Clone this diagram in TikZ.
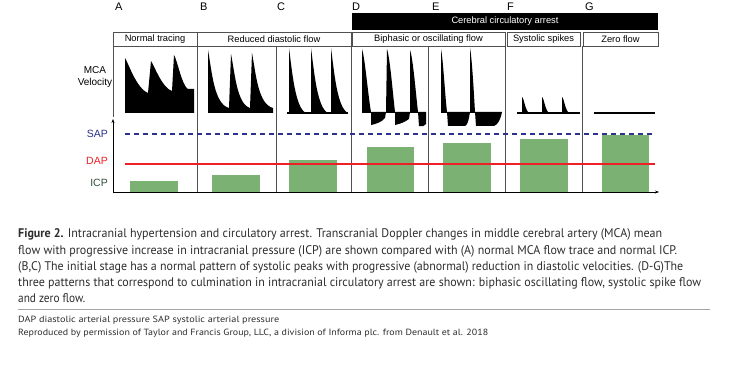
\documentclass[tikz,border=0pt]{standalone}
\usepackage{fontspec}
\setmainfont{Liberation Sans}
\newfontfamily\capfont{PT Sans}
\usepackage{graphicx}
\usetikzlibrary{arrows.meta}
\definecolor{barg}{RGB}{123,177,115}
\definecolor{sapc}{RGB}{43,49,140}
\definecolor{dapc}{RGB}{236,32,38}
\definecolor{icpc}{RGB}{50,80,60}
\definecolor{divc}{RGB}{80,80,80}
\definecolor{capc}{RGB}{45,45,45}
\tikzset{
  letter/.style={anchor=west,inner sep=0pt,font=\fontsize{11}{12}\selectfont},
  hdr/.style={draw=divc,line width=0.9pt,fill=white,inner sep=0pt,minimum height=14pt,font=\fontsize{9.3}{10}\selectfont},
  blackbar/.style={fill=black,text=white,inner sep=0pt,minimum height=17pt,font=\fontsize{9.3}{10}\selectfont},
  divider/.style={draw=divc,line width=0.8pt},
  wave/.style={fill=black},
  baseln/.style={draw=black,line width=1.2pt},
  bar/.style={fill=barg},
  axisline/.style={draw=black,line width=0.9pt,-{Stealth[length=4pt,width=3pt]}},
  plab/.style={anchor=east,inner sep=0pt,font=\fontsize{10.5}{12}\selectfont},
  captxt/.style={anchor=west,inner sep=0pt,text=capc,font=\capfont\fontsize{12.5}{14}\selectfont},
  smalltxt/.style={anchor=west,inner sep=0pt,text=capc,font=\capfont\fontsize{9}{10}\selectfont},
}
\begin{document}
\begin{tikzpicture}[x=1pt,y=-1pt]
\useasboundingbox (0,0) rectangle (730,366);
\fill[white] (0,0) rectangle (730,366);

% letters
\node[letter] (lA) at (115,7) {A};
\node[letter] (lB) at (200,7) {B};
\node[letter] (lC) at (277,7) {C};
\node[letter] (lD) at (352,7) {D};
\node[letter] (lE) at (432,7) {E};
\node[letter] (lF) at (507,7) {F};
\node[letter] (lG) at (585,7) {G};

% black bar
\node[blackbar,minimum width=306pt] (arrest) at (505,21.5) {Cerebral circulatory arrest};

% header boxes
\node[hdr,minimum width=84pt] (hA) at (155,39) {Normal tracing};
\node[hdr,minimum width=154pt] (hBC) at (274,39) {Reduced diastolic flow};
\node[hdr,minimum width=153pt] (hDE) at (428.5,39) {Biphasic or oscillating flow};
\node[hdr,minimum width=73pt] (hF) at (543.5,39) {Systolic spikes};
\node[hdr,minimum width=75pt] (hG) at (620.5,39) {Zero flow};

% dividers
\draw[divider] (113,46) -- (113,117);
\foreach \xx in {197,276,351,428,505,582} \draw[divider] (\xx,46) -- (\xx,192);

% MCA label
\node[align=center,inner sep=0pt,font=\fontsize{10}{11.5}\selectfont] (mca) at (95,77) {MCA\\Velocity};

% waveform A
\fill[wave] (125,113) -- (125,58) .. controls (128,62) and (136,88) .. (148,93) -- (151,61)
  .. controls (154,65) and (162,88) .. (172,91) -- (174,55)
  .. controls (177,59) and (182,86) .. (188,89) -- (194,89) -- (194,113) -- cycle;
% waveform B
\fill[wave] (208,113) -- (208,50) .. controls (212,72) and (214,104) .. (229,108) -- (231,54)
  .. controls (235,74) and (237,104) .. (250,108) -- (252,53)
  .. controls (256,74) and (258,104) .. (273,108) -- (273,113) -- cycle;
% waveform C
\draw[baseln] (287,113) -- (348,113);
\foreach \xx in {289,311,331}
  \fill[wave] (\xx,113) -- (\xx,48) .. controls (\xx+3,70) and (\xx+6,108) .. (\xx+17,113) -- cycle;
% waveform D
\fill[wave] (362,112) -- (362,49) .. controls (365,58) and (368,95) .. (371,112) -- (371,125)
  .. controls (376,124) and (382,122) .. (385,118) -- (386,112)
  -- (387,49) .. controls (390,58) and (393,95) .. (395,112) -- (395,125)
  .. controls (400,124) and (405,122) .. (409,119) -- (410,112)
  -- (410,50) .. controls (413,58) and (416,95) .. (418,112) -- (419,126)
  .. controls (422,127) and (425,126) .. (426,124) -- (426,112) -- cycle;
\draw[baseln] (362,112.5) -- (426,112.5);
% waveform E
\fill[wave] (441,112) -- (441,49) .. controls (443,58) and (445,95) .. (447,112) -- (448,126)
  -- (465,126) .. controls (468,125) and (469,118) .. (470,112)
  -- (470,48) .. controls (472,58) and (474,95) .. (475,112) -- (476,126)
  -- (494,126) .. controls (498,125) and (501,118) .. (502,112) -- cycle;
\draw[baseln] (441,112.5) -- (502,112.5);
% waveform F
\draw[baseln] (517,113) -- (580,113);
\foreach \xx in {522,542,562}
  \fill[wave] (\xx,113) -- (\xx,97) .. controls (\xx+2,98) and (\xx+3,110) .. (\xx+7,113) -- cycle;
% waveform G
\draw[baseln] (594,113) -- (655,113);

% bars
\fill[bar] (130,181) rectangle (178,192);
\fill[bar] (212,175) rectangle (260,192);
\fill[bar] (289,160) rectangle (337,192);
\fill[bar] (367,147) rectangle (414,192);
\fill[bar] (443,143) rectangle (491,192);
\fill[bar] (520,139) rectangle (568,192);
\fill[bar] (602,135) rectangle (649,192);

% SAP / DAP lines
\draw[sapc,line width=1.6pt,dash pattern=on 5pt off 4pt] (125,134) -- (655,134);
\draw[dapc,line width=1.8pt] (125,164) -- (655,164);

% axes
\coordinate (origin) at (113,192);
\coordinate (yend) at (113,119);
\coordinate (xend) at (659,192);
\draw[axisline] (origin) -- (yend);
\draw[axisline] (origin) -- (xend);

% pressure labels
\node[plab,text=sapc] (sap) at (108,134) {SAP};
\node[plab,text=dapc] (dap) at (108,161) {DAP};
\node[plab,text=icpc] (icp) at (108,183) {ICP};

% caption
\node[captxt] (c1) at (18,234) {\resizebox{644pt}{\height}{\textbf{Figure 2.} Intracranial hypertension and circulatory arrest. Transcranial Doppler changes in middle cerebral artery (MCA) mean}};
\node[captxt] (c2) at (18,251) {\resizebox{659pt}{\height}{flow with progressive increase in intracranial pressure (ICP) are shown compared with (A) normal MCA flow trace and normal ICP.}};
\node[captxt] (c3) at (18,267) {\resizebox{665pt}{\height}{(B,C) The initial stage has a normal pattern of systolic peaks with progressive (abnormal) reduction in diastolic velocities. (D-G)The}};
\node[captxt] (c4) at (18,283) {\resizebox{683pt}{\height}{three patterns that correspond to culmination in intracranial circulatory arrest are shown: biphasic oscillating flow, systolic spike flow}};
\node[captxt] (c5) at (18,298) {\resizebox{67pt}{\height}{and zero flow.}};
\coordinate (r1) at (18,309);
\coordinate (r2) at (710,309);
\draw[draw=gray!70,line width=1pt] (r1) -- (r2);
\node[smalltxt] (n1) at (18,320) {\resizebox{261pt}{\height}{DAP diastolic arterial pressure SAP systolic arterial pressure}};
\node[smalltxt] (n2) at (18,333) {\resizebox{470pt}{\height}{Reproduced by permission of Taylor and Francis Group, LLC, a division of Informa plc. from Denault et al. 2018}};
\end{tikzpicture}
\end{document}
